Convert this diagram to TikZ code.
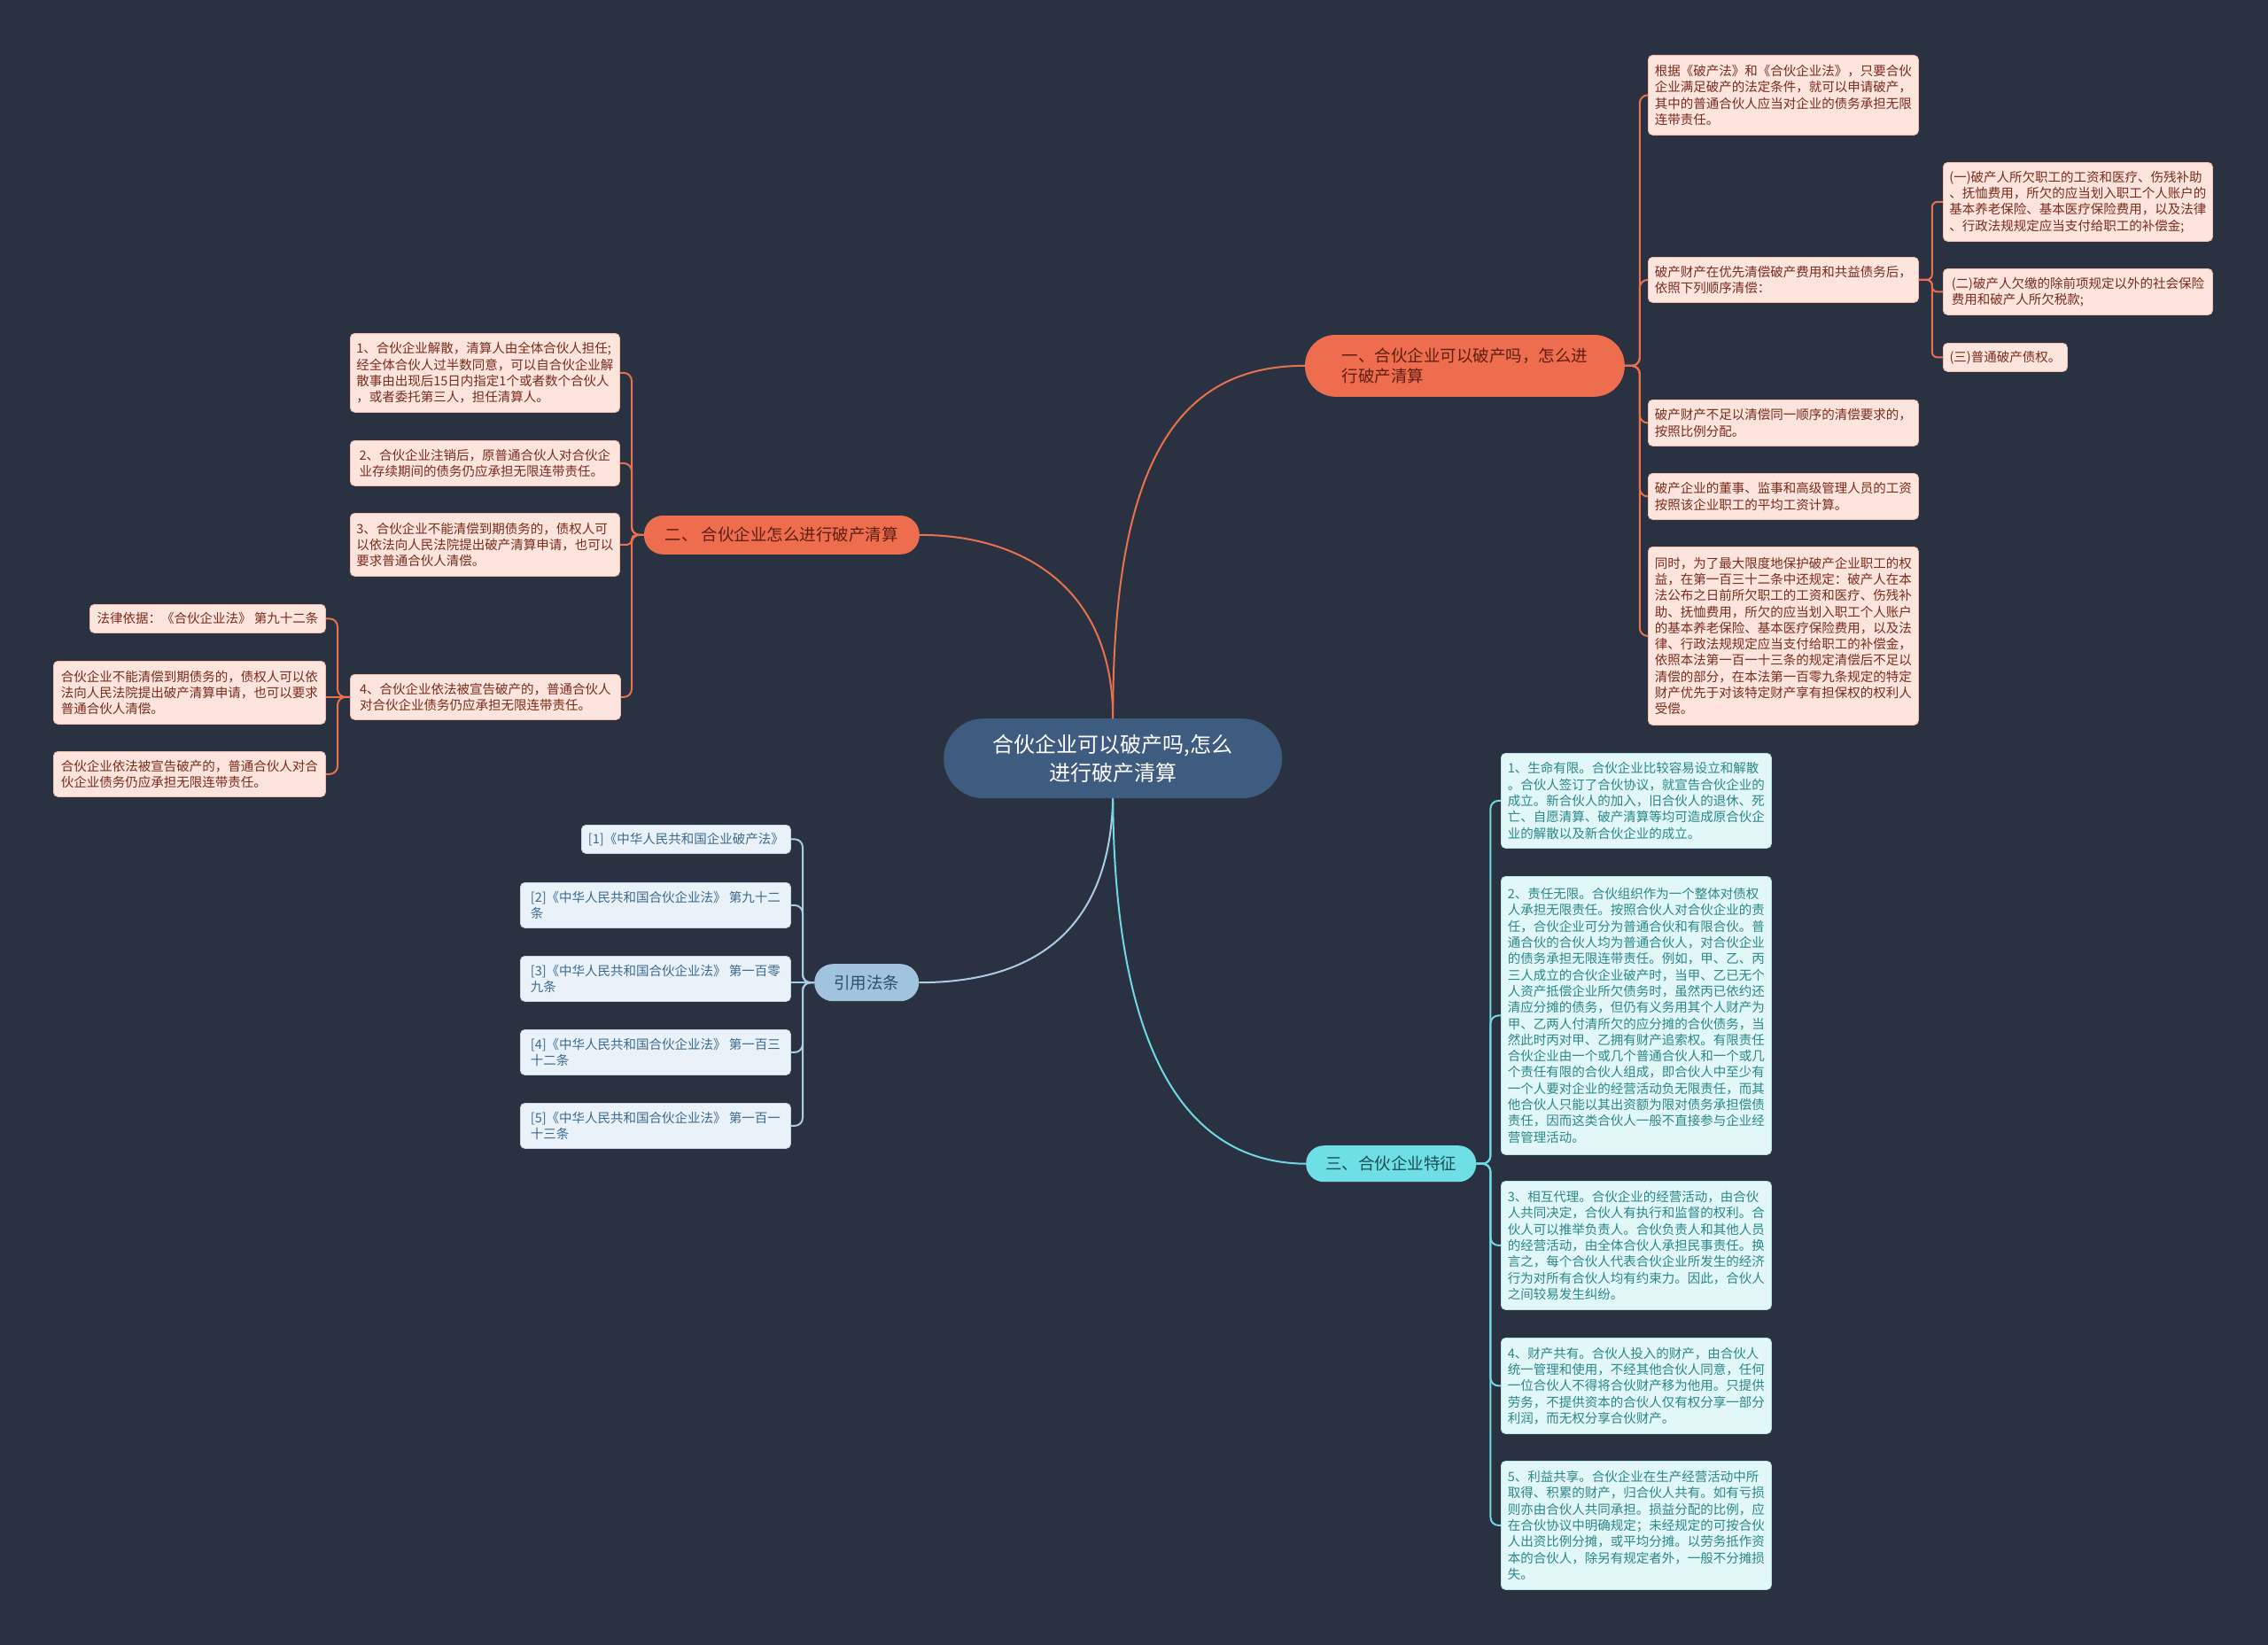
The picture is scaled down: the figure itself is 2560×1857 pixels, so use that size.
\documentclass[tikz,border=0pt]{standalone}
\usepackage{fontspec}
\setmainfont{Noto Sans CJK SC}
\definecolor{bg}{HTML}{2A3241}
\definecolor{rootc}{HTML}{3E5B80}
\definecolor{obr}{HTML}{EE6D4E}
\definecolor{obrt}{HTML}{5E1E12}
\definecolor{ol}{HTML}{FDE4DD}
\definecolor{old}{HTML}{F2BFB2}
\definecolor{olt}{HTML}{7A2C1C}
\definecolor{ocon}{HTML}{E9714F}
\definecolor{bbr}{HTML}{A0C4DE}
\definecolor{bbrt}{HTML}{2F4F68}
\definecolor{bl}{HTML}{E9F2F8}
\definecolor{bld}{HTML}{C3D8E8}
\definecolor{blt}{HTML}{3C6A8F}
\definecolor{bcon}{HTML}{A9CDE3}
\definecolor{cbr}{HTML}{6EDFE5}
\definecolor{cbrt}{HTML}{1C4F55}
\definecolor{cl}{HTML}{E1F7F8}
\definecolor{cld}{HTML}{B5E6E8}
\definecolor{clt}{HTML}{2B8789}
\definecolor{ccon}{HTML}{6ED9E0}
\begin{document}
\begin{tikzpicture}[x=1pt,y=-1pt,
  box/.style={anchor=north west, rounded corners=5pt, inner xsep=7pt, inner ysep=0pt,
    align=left, line width=0.8pt, font=\fontsize{14.5}{18.3}\selectfont},
  dims/.style 2 args={minimum width=#1pt, minimum height=#2pt},
  leafO/.style={box, fill=ol, draw=old, text=olt},
  leafB/.style={box, fill=bl, draw=bld, text=blt},
  leafC/.style={box, fill=cl, draw=cld, text=clt},
  pill/.style={anchor=north west, inner xsep=0pt, inner ysep=0pt, align=center,
    font=\fontsize{18.5}{23}\selectfont},
  brO/.style={pill, fill=obr, text=obrt, draw=ocon, line width=0.8pt},
  brB/.style={pill, fill=bbr, text=bbrt},
  brC/.style={pill, fill=cbr, text=cbrt},
  cO/.style={draw=ocon, line width=2pt},
  cB/.style={draw=bcon, line width=2pt},
  cC/.style={draw=ccon, line width=2pt}]
\fill[bg] (0,0) rectangle (2560,1857);
\useasboundingbox (0,0) rectangle (2560,1857);

% root
\node[pill, fill=rootc, text=white, rounded corners=45pt, dims={382}{90},
  font=\fontsize{24}{32}\selectfont] (root) at (1065,811)
  {合伙企业可以破产吗,怎么\\进行破产清算};

% branches
\node[brO, rounded corners=34pt, dims={360}{69}, align=left] (B1) at (1473,378)
  {一、合伙企业可以破产吗，怎么进\\行破产清算};
\node[brO, rounded corners=21pt, dims={310}{43}] (B2) at (727,582)
  {二、 合伙企业怎么进行破产清算};
\node[brB, rounded corners=21pt, dims={118}{42}] (B3) at (919,1088) {引用法条};
\node[brC, rounded corners=20pt, dims={192}{41}] (B4) at (1474,1293) {三、合伙企业特征};

% branch 1 leaves
\node[leafO, dims={305}{90}] (L1a) at (1860,62)
  {根据《破产法》和《合伙企业法》，只要合伙\\企业满足破产的法定条件，就可以申请破产，\\其中的普通合伙人应当对企业的债务承担无限\\连带责任。};
\node[leafO, dims={305}{51}] (L1b) at (1860,290)
  {破产财产在优先清偿破产费用和共益债务后，\\依照下列顺序清偿：};
\node[leafO, dims={305}{52}] (L1c) at (1860,451)
  {破产财产不足以清偿同一顺序的清偿要求的，\\按照比例分配。};
\node[leafO, dims={305}{52}] (L1d) at (1860,534)
  {破产企业的董事、监事和高级管理人员的工资\\按照该企业职工的平均工资计算。};
\node[leafO, dims={305}{201}] (L1e) at (1860,617)
  {同时，为了最大限度地保护破产企业职工的权\\益，在第一百三十二条中还规定：破产人在本\\法公布之日前所欠职工的工资和医疗、伤残补\\助、抚恤费用，所欠的应当划入职工个人账户\\的基本养老保险、基本医疗保险费用，以及法\\律、行政法规规定应当支付给职工的补偿金，\\依照本法第一百一十三条的规定清偿后不足以\\清偿的部分，在本法第一百零九条规定的特定\\财产优先于对该特定财产享有担保权的权利人\\受偿。};
\node[leafO, dims={304}{89}] (S1) at (2193,183)
  {(一)破产人所欠职工的工资和医疗、伤残补助\\、抚恤费用，所欠的应当划入职工个人账户的\\基本养老保险、基本医疗保险费用，以及法律\\、行政法规规定应当支付给职工的补偿金;};
\node[leafO, dims={304}{52}] (S2) at (2193,303)
  {(二)破产人欠缴的除前项规定以外的社会保险\\费用和破产人所欠税款;};
\node[leafO, dims={140}{32}] (S3) at (2193,387) {(三)普通破产债权。};

% branch 2 leaves
\node[leafO, dims={304}{89}] (L2a) at (395,376)
  {1、合伙企业解散，清算人由全体合伙人担任;\\经全体合伙人过半数同意，可以自合伙企业解\\散事由出现后15日内指定1个或者数个合伙人\\，或者委托第三人，担任清算人。};
\node[leafO, dims={304}{51}] (L2b) at (395,497)
  {2、合伙企业注销后，原普通合伙人对合伙企\\业存续期间的债务仍应承担无限连带责任。};
\node[leafO, dims={304}{71}] (L2c) at (395,579)
  {3、合伙企业不能清偿到期债务的，债权人可\\以依法向人民法院提出破产清算申请，也可以\\要求普通合伙人清偿。};
\node[leafO, dims={305}{51}] (L2d) at (395,761)
  {4、合伙企业依法被宣告破产的，普通合伙人\\对合伙企业债务仍应承担无限连带责任。};
\node[leafO, dims={266}{32}] (F1) at (101,682) {法律依据：《合伙企业法》 第九十二条};
\node[leafO, dims={307}{71}] (F2) at (60,746)
  {合伙企业不能清偿到期债务的，债权人可以依\\法向人民法院提出破产清算申请，也可以要求\\普通合伙人清偿。};
\node[leafO, dims={307}{51}] (F3) at (60,848)
  {合伙企业依法被宣告破产的，普通合伙人对合\\伙企业债务仍应承担无限连带责任。};

% references
\node[leafB, dims={236}{32}] (R1) at (656,931) {[1]《中华人民共和国企业破产法》};
\node[leafB, dims={305}{51}] (R2) at (587,996) {[2]《中华人民共和国合伙企业法》 第九十二\\条};
\node[leafB, dims={305}{51}] (R3) at (587,1079) {[3]《中华人民共和国合伙企业法》 第一百零\\九条};
\node[leafB, dims={305}{51}] (R4) at (587,1162) {[4]《中华人民共和国合伙企业法》 第一百三\\十二条};
\node[leafB, dims={305}{51}] (R5) at (587,1245) {[5]《中华人民共和国合伙企业法》 第一百一\\十三条};

% branch 3 leaves
\node[leafC, dims={305}{107}] (T1) at (1694,850)
  {1、生命有限。合伙企业比较容易设立和解散\\。合伙人签订了合伙协议，就宣告合伙企业的\\成立。新合伙人的加入，旧合伙人的退休、死\\亡、自愿清算、破产清算等均可造成原合伙企\\业的解散以及新合伙企业的成立。};
\node[leafC, dims={305}{314}] (T2) at (1694,989)
  {2、责任无限。合伙组织作为一个整体对债权\\人承担无限责任。按照合伙人对合伙企业的责\\任，合伙企业可分为普通合伙和有限合伙。普\\通合伙的合伙人均为普通合伙人，对合伙企业\\的债务承担无限连带责任。例如，甲、乙、丙\\三人成立的合伙企业破产时，当甲、乙已无个\\人资产抵偿企业所欠债务时，虽然丙已依约还\\清应分摊的债务，但仍有义务用其个人财产为\\甲、乙两人付清所欠的应分摊的合伙债务，当\\然此时丙对甲、乙拥有财产追索权。有限责任\\合伙企业由一个或几个普通合伙人和一个或几\\个责任有限的合伙人组成，即合伙人中至少有\\一个人要对企业的经营活动负无限责任，而其\\他合伙人只能以其出资额为限对债务承担偿债\\责任，因而这类合伙人一般不直接参与企业经\\营管理活动。};
\node[leafC, dims={305}{145}] (T3) at (1694,1333)
  {3、相互代理。合伙企业的经营活动，由合伙\\人共同决定，合伙人有执行和监督的权利。合\\伙人可以推举负责人。合伙负责人和其他人员\\的经营活动，由全体合伙人承担民事责任。换\\言之，每个合伙人代表合伙企业所发生的经济\\行为对所有合伙人均有约束力。因此，合伙人\\之间较易发生纠纷。};
\node[leafC, dims={305}{108}] (T4) at (1694,1510)
  {4、财产共有。合伙人投入的财产，由合伙人\\统一管理和使用，不经其他合伙人同意，任何\\一位合伙人不得将合伙财产移为他用。只提供\\劳务，不提供资本的合伙人仅有权分享一部分\\利润，而无权分享合伙财产。};
\node[leafC, dims={305}{145}] (T5) at (1694,1649)
  {5、利益共享。合伙企业在生产经营活动中所\\取得、积累的财产，归合伙人共有。如有亏损\\则亦由合伙人共同承担。损益分配的比例，应\\在合伙协议中明确规定；未经规定的可按合伙\\人出资比例分摊，或平均分摊。以劳务抵作资\\本的合伙人，除另有规定者外，一般不分摊损\\失。};

% main curves
\begin{scope}[on background layer/.try]
\end{scope}
\draw[cO] (root.north) .. controls (1256,520) and (1330,412.5) .. (B1.west);
\draw[cO] (root.north) .. controls (1256,660) and (1150,603.5) .. (B2.east);
\draw[cB] (root.south) .. controls (1252,1080) and (1130,1109) .. (B3.east);
\draw[cC] (root.south) .. controls (1258,1190) and (1340,1313) .. (B4.west);

% brackets
\foreach \c in {L1a,L1b,L1c,L1d,L1e}
  \draw[cO, rounded corners=9pt] (B1.east) -- ++(17,0) |- (\c.west);
\foreach \c in {S1,S2,S3}
  \draw[cO, rounded corners=6pt] (L1b.east) -- ++(15,0) |- (\c.west);
\foreach \c in {L2a,L2b,L2d}
  \draw[cO, rounded corners=9pt] (B2.west) -- ++(-14,0) |- (\c.east);
\draw[cO, rounded corners=5pt] (B2.west) -- ++(-14,0) |- (L2c.east);
\foreach \c in {F1,F3}
  \draw[cO, rounded corners=9pt] (L2d.west) -- ++(-14,0) |- (\c.east);
\draw[cO] (L2d.west) -- (F2.east |- L2d.west);
\foreach \c in {R1,R2,R4,R5}
  \draw[cB, rounded corners=9pt] (B3.west) -- ++(-13,0) |- (\c.east);
\draw[cB] (B3.west) -- (R3.east |- B3.west);
\foreach \c in {T1,T2,T3,T4,T5}
  \draw[cC, rounded corners=9pt] (B4.east) -- ++(16,0) |- (\c.west);
\end{tikzpicture}
\end{document}
